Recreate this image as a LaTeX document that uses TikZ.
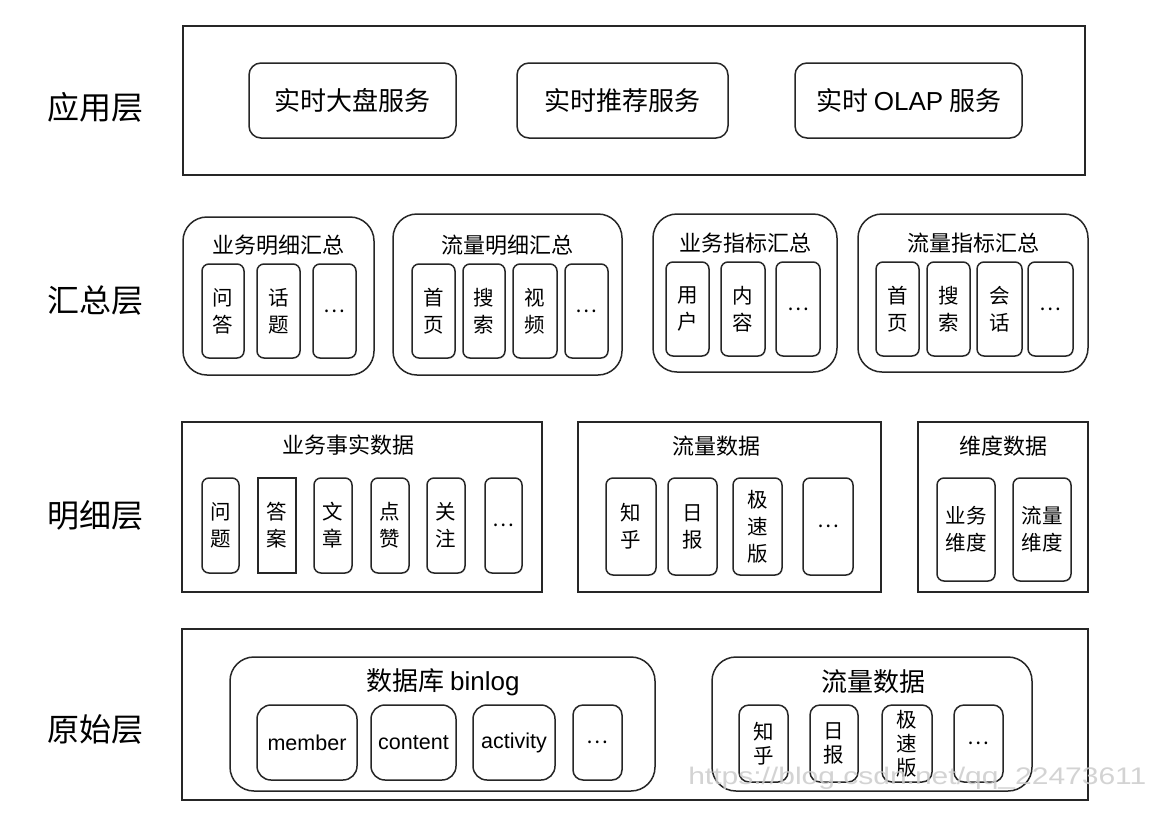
\documentclass[tikz,border=0pt]{standalone}
\usepackage{fontspec}
\setmainfont{Liberation Sans}
\newfontfamily\cjk{Noto Sans CJK SC}
\usetikzlibrary{fit}
\tikzset{
  lay/.style={font=\cjk\fontsize{32}{32}\selectfont, inner sep=0},
  outerbox/.style={draw=black!85, line width=1.6pt, inner sep=0},
  grp/.style={draw=black!85, line width=1.5pt, rounded corners=24pt, inner sep=0},
  appbox/.style={draw=black!85, line width=1.5pt, rounded corners=12pt, inner sep=0},
  apptxt/.style={inner sep=0, font=\cjk\fontsize{26}{26}\selectfont},
  cell/.style={draw=black!85, line width=1.5pt, rounded corners=7pt, inner sep=0, align=center, font=\cjk\fontsize{20.5}{27}\selectfont},
  rcell/.style={cell, font=\cjk\fontsize{20.5}{24}\selectfont},
  lcell/.style={draw=black!85, line width=1.5pt, rounded corners=14pt, inner sep=0},
  latxt/.style={inner sep=0, font=\fontsize{21.5}{21.5}\selectfont},
  ttl/.style={inner sep=0, font=\cjk\fontsize{22}{22}\selectfont},
  bigttl/.style={inner sep=0, font=\cjk\fontsize{26}{26}\selectfont},
}
\begin{document}
\begin{tikzpicture}[x=1pt,y=-1pt]
\useasboundingbox[fill=white] (0,0) rectangle (1153,825);

% layer labels
\node[lay] (L1) at (95,107) {应用层};
\node[lay] (L2) at (95,300) {汇总层};
\node[lay] (L3) at (95,515) {明细层};
\node[lay] (L4) at (95,729) {原始层};

% application layer
\node[outerbox, fit={(183,26)(1085,175)}] (app) {};
\node[appbox, fit={(249,63)(456,138)}] (app1) {};
\node[apptxt] at (app1.center) (app1t) {实时大盘服务};
\node[appbox, fit={(517,63)(728,138)}] (app2) {};
\node[apptxt] at (app2.center) (app2t) {实时推荐服务};
\node[appbox, fit={(795,63)(1022,138)}] (app3) {};
\node[apptxt] at (app3.center) (app3t) {实时 {\rmfamily OLAP} 服务};

% summary layer
\node[grp, fit={(183,217)(374,375)}] (sA) {};
\node[ttl] (sAt) at (278,245) {业务明细汇总};
\node[cell, fit={(202,264)(244,358)}] (sA1) {};
\node[cell, draw=none] at (sA1.center) (sA1t) {问\\答};
\node[cell, fit={(257,264)(300,358)}] (sA2) {};
\node[cell, draw=none] at (sA2.center) (sA2t) {话\\题};
\node[cell, fit={(313,264)(356,358)}] (sA3) {};
\node[cell, draw=none] at (sA3.center) (sA3t) {\dots};

\node[grp, fit={(393,214)(622,375)}] (sB) {};
\node[ttl] (sBt) at (507,245) {流量明细汇总};
\node[cell, fit={(412,264)(455,358)}] (sB1) {};
\node[cell, draw=none] at (sB1.center) (sB1t) {首\\页};
\node[cell, fit={(463,264)(505,358)}] (sB2) {};
\node[cell, draw=none] at (sB2.center) (sB2t) {搜\\索};
\node[cell, fit={(513,264)(557,358)}] (sB3) {};
\node[cell, draw=none] at (sB3.center) (sB3t) {视\\频};
\node[cell, fit={(565,264)(608,358)}] (sB4) {};
\node[cell, draw=none] at (sB4.center) (sB4t) {\dots};

\node[grp, fit={(653,214)(837,372)}] (sC) {};
\node[ttl] (sCt) at (745,243) {业务指标汇总};
\node[cell, fit={(666,262)(709,356)}] (sC1) {};
\node[cell, draw=none] at (sC1.center) (sC1t) {用\\户};
\node[cell, fit={(721,262)(765,356)}] (sC2) {};
\node[cell, draw=none] at (sC2.center) (sC2t) {内\\容};
\node[cell, fit={(776,262)(820,356)}] (sC3) {};
\node[cell, draw=none] at (sC3.center) (sC3t) {\dots};

\node[grp, fit={(858,214)(1088,372)}] (sD) {};
\node[ttl] (sDt) at (973,243) {流量指标汇总};
\node[cell, fit={(876,262)(919,356)}] (sD1) {};
\node[cell, draw=none] at (sD1.center) (sD1t) {首\\页};
\node[cell, fit={(927,262)(970,356)}] (sD2) {};
\node[cell, draw=none] at (sD2.center) (sD2t) {搜\\索};
\node[cell, fit={(977,262)(1022,356)}] (sD3) {};
\node[cell, draw=none] at (sD3.center) (sD3t) {会\\话};
\node[cell, fit={(1028,262)(1073,356)}] (sD4) {};
\node[cell, draw=none] at (sD4.center) (sD4t) {\dots};

% detail layer
\node[outerbox, fit={(182,422)(542,592)}] (dE) {};
\node[ttl] (dEt) at (348,445) {业务事实数据};
\node[cell, fit={(202,478)(239,573)}] (dE1) {};
\node[cell, draw=none] at (dE1.center) (dE1t) {问\\题};
\node[cell, sharp corners, fit={(258,478)(296,573)}] (dE2) {};
\node[cell, draw=none] at (dE2.center) (dE2t) {答\\案};
\node[cell, fit={(314,478)(352,573)}] (dE3) {};
\node[cell, draw=none] at (dE3.center) (dE3t) {文\\章};
\node[cell, fit={(371,478)(409,573)}] (dE4) {};
\node[cell, draw=none] at (dE4.center) (dE4t) {点\\赞};
\node[cell, fit={(427,478)(465,573)}] (dE5) {};
\node[cell, draw=none] at (dE5.center) (dE5t) {关\\注};
\node[cell, fit={(485,478)(522,573)}] (dE6) {};
\node[cell, draw=none] at (dE6.center) (dE6t) {\dots};

\node[outerbox, fit={(578,422)(881,592)}] (dF) {};
\node[ttl] (dFt) at (716,446) {流量数据};
\node[cell, fit={(606,478)(656,575)}] (dF1) {};
\node[cell, draw=none] at (dF1.center) (dF1t) {知\\乎};
\node[cell, fit={(668,478)(717,575)}] (dF2) {};
\node[cell, draw=none] at (dF2.center) (dF2t) {日\\报};
\node[cell, fit={(733,478)(782,575)}] (dF3) {};
\node[cell, draw=none] at (dF3.center) (dF3t) {极\\速\\版};
\node[cell, fit={(803,478)(853,575)}] (dF4) {};
\node[cell, draw=none] at (dF4.center) (dF4t) {\dots};

\node[outerbox, fit={(918,422)(1088,592)}] (dG) {};
\node[ttl] (dGt) at (1003,446) {维度数据};
\node[cell, fit={(937,478)(995,581)}] (dG1) {};
\node[cell, draw=none] at (dG1.center) (dG1t) {业务\\维度};
\node[cell, fit={(1013,478)(1071,581)}] (dG2) {};
\node[cell, draw=none] at (dG2.center) (dG2t) {流量\\维度};

% raw layer
\node[outerbox, fit={(182,629)(1088,800)}] (rH) {};
\node[grp, fit={(230,657)(655,791)}] (rI) {};
\node[bigttl] (rIt) at (443,682) {数据库 {\rmfamily binlog}};
\node[lcell, fit={(257,705)(357,780)}] (rI1) {};
\node[latxt] at (rI1.center) (rI1t) {member};
\node[lcell, fit={(371,705)(456,780)}] (rI2) {};
\node[latxt] at (rI2.center) (rI2t) {content};
\node[lcell, fit={(473,705)(555,780)}] (rI3) {};
\node[latxt] at (rI3.center) (rI3t) {activity};
\node[cell, rounded corners=10pt, fit={(573,705)(622,780)}] (rI4) {};
\node[cell, draw=none] at (rI4.center) (rI4t) {\dots};

\node[grp, fit={(712,657)(1032,791)}] (rJ) {};
\node[bigttl] (rJt) at (873,682) {流量数据};
\node[rcell, rounded corners=10pt, fit={(739,705)(788,782)}] (rJ1) {};
\node[rcell, draw=none] at (rJ1.center) (rJ1t) {知\\乎};
\node[rcell, rounded corners=10pt, fit={(810,705)(858,782)}] (rJ2) {};
\node[rcell, draw=none] at (rJ2.center) (rJ2t) {日\\报};
\node[rcell, rounded corners=10pt, fit={(882,705)(932,782)}] (rJ3) {};
\node[rcell, draw=none] at (rJ3.center) (rJ3t) {极\\速\\版};
\node[rcell, rounded corners=10pt, fit={(954,705)(1003,782)}] (rJ4) {};
\node[rcell, draw=none] at (rJ4.center) (rJ4t) {\dots};

% watermark
\node[anchor=base west, inner sep=0, text=black!20, opacity=0.85, xscale=1.25, transform shape, font=\fontsize{24}{24}\selectfont] (wm) at (688,784) {https://blog.csdn.net/qq\_22473611};
\end{tikzpicture}
\end{document}
